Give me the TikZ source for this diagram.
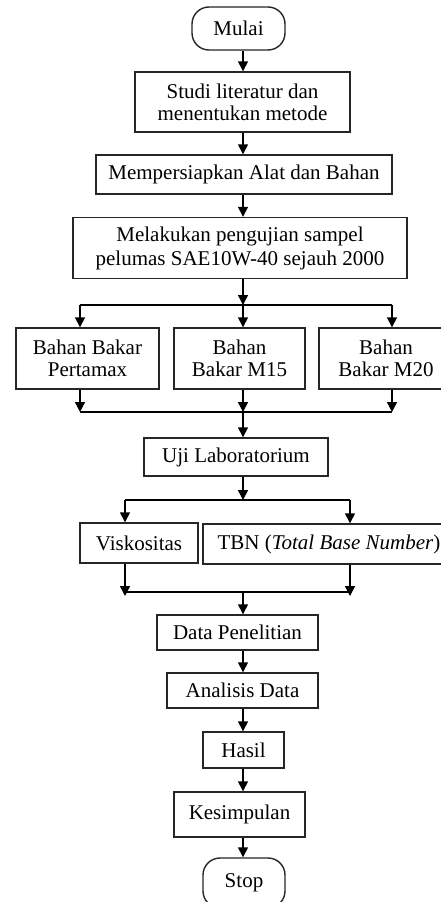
\documentclass[tikz,border=0pt]{standalone}
\usepackage{fontspec}
\setmainfont{Liberation Serif}
\usetikzlibrary{arrows.meta}
\begin{document}
\begin{tikzpicture}[x=1pt,y=-1pt,
  box/.style={draw=black!85, line width=1.4pt, inner sep=0pt, align=center,
    font=\fontsize{21}{22}\selectfont},
  term/.style={box, rounded corners=17pt},
  arr/.style={-{Triangle[width=10pt,length=10pt]}, line width=1.4pt},
  ln/.style={line width=1.4pt}]
\useasboundingbox (0,0) rectangle (441,902);
\clip (0,0) rectangle (441,902);
\fill[white] (0,0) rectangle (441,902);

\node[term, minimum width=93pt, minimum height=43pt] (mulai) at (238.5,28.5) {Mulai};
\node[box, minimum width=215pt, minimum height=60pt] (studi) at (242.5,102) {Studi literatur dan\\menentukan metode};
\node[box, minimum width=296pt, minimum height=39pt] (siap) at (244,174.5) {Mempersiapkan Alat dan Bahan};
\node[box, minimum width=334pt, minimum height=61pt, font=\fontsize{21}{24}\selectfont] (uji) at (240,248) {Melakukan pengujian sampel\\pelumas SAE10W-40 sejauh 2000};
\node[box, minimum width=143pt, minimum height=61pt] (pert) at (87.5,358.5) {Bahan Bakar\\Pertamax};
\node[box, minimum width=131pt, minimum height=61pt] (m15) at (239.5,358.5) {Bahan\\Bakar M15};
\node[box, minimum width=134pt, minimum height=61pt] (m20) at (386,358.5) {Bahan\\Bakar M20};
\node[box, minimum width=184pt, minimum height=38pt] (lab) at (236,457) {Uji Laboratorium};
\node[box, minimum width=118pt, minimum height=40pt] (visk) at (139,543) {Viskositas};
\node[box, minimum width=252pt, minimum height=40pt] (tbn) at (329,544) {TBN (\textit{Total Base Number})};
\node[box, minimum width=161pt, minimum height=35pt] (data) at (237.5,632.5) {Data Penelitian};
\node[box, minimum width=151pt, minimum height=35pt] (anal) at (242.5,690.5) {Analisis Data};
\node[box, minimum width=81pt, minimum height=36pt] (hasil) at (243.5,750) {Hasil};
\node[box, minimum width=131pt, minimum height=45pt] (kes) at (239.5,814.5) {Kesimpulan};
\node[term, minimum width=82pt, minimum height=50pt] (stop) at (244,883) {Stop};

\coordinate (ax) at (243,0);
\coordinate (f1) at (243,305);
\coordinate (f1l) at (80,305);
\coordinate (f1r) at (392,305);
\coordinate (j1) at (243,412);
\coordinate (j1l) at (80,412);
\coordinate (j1r) at (392,412);
\coordinate (f2) at (243,500);
\coordinate (f2l) at (125,500);
\coordinate (f2r) at (350,500);
\coordinate (j2) at (243,592);
\coordinate (j2l) at (125,592);
\coordinate (j2r) at (350,592);

\draw[arr] (mulai.south -| ax) -- (studi.north -| ax);
\draw[arr] (studi.south -| ax) -- (siap.north -| ax);
\draw[arr] (siap.south -| ax) -- (uji.north -| ax);
\draw[arr] (uji.south -| ax) -- (f1);
\draw[ln] (f1l) -- (f1r);
\draw[arr] (f1l) -- (pert.north -| f1l);
\draw[arr] (f1) -- (m15.north -| f1);
\draw[arr] (f1r) -- (m20.north -| f1r);
\draw[arr] (pert.south -| j1l) -- (j1l);
\draw[arr] (m15.south -| j1) -- (j1);
\draw[arr] (m20.south -| j1r) -- (j1r);
\draw[ln] (j1l) -- (j1r);
\draw[arr] (j1) -- (lab.north -| j1);
\draw[arr] (lab.south -| ax) -- (f2);
\draw[ln] (f2l) -- (f2r);
\draw[arr] (f2l) -- (visk.north -| f2l);
\draw[arr] (f2r) -- (tbn.north -| f2r);
\draw[arr] (visk.south -| j2l) -- ([yshift=-4pt]j2l);
\draw[arr] (tbn.south -| j2r) -- ([yshift=-4pt]j2r);
\draw[ln] (j2l) -- (j2r);
\draw[arr] (j2) -- (data.north -| j2);
\draw[arr] (data.south -| ax) -- (anal.north -| ax);
\draw[arr] (anal.south -| ax) -- (hasil.north -| ax);
\draw[arr] (hasil.south -| ax) -- (kes.north -| ax);
\draw[arr] (kes.south -| ax) -- (stop.north -| ax);
\end{tikzpicture}
\end{document}
